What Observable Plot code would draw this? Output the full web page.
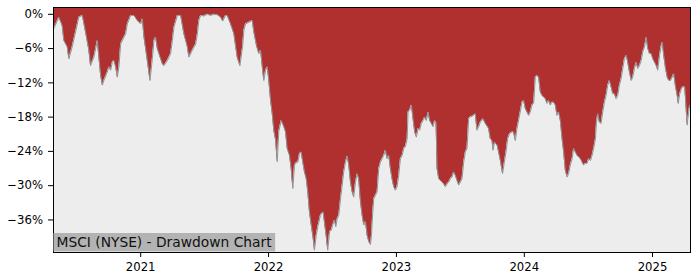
<!DOCTYPE html>
<html>
<head>
<meta charset="utf-8">
<script src="https://cdn.jsdelivr.net/npm/d3@7"></script>
<script src="https://cdn.jsdelivr.net/npm/@observablehq/plot@0.6"></script>
<style>
  html, body { margin: 0; padding: 0; background: #fff; }
  svg { display: block; }
</style>
</head>
<body>
<script>
// ---- data ----
const title = "MSCI (NYSE) - Drawdown Chart";
const xTickYears = [2021, 2022, 2023, 2024, 2025];
const yTicks = [0, -6, -12, -18, -24, -30, -36];
const xRange = [2020.320, 2025.297];   // decimal years
const yRange = [-41.7, 1.19];          // percent

const years = [
2020.320,2020.323,2020.362,2020.388,2020.401,2020.427,2020.440,2020.466,2020.492,2020.518,2020.545,2020.570,2020.596,2020.609,2020.635,2020.662,2020.674,2020.688,2020.701,2020.713,2020.740,2020.752,2020.766,2020.779,2020.791,2020.805,2020.818,2020.830,2020.844,2020.857,2020.883,2020.896,2020.922,2020.948,2020.974,
2021.000,2021.013,2021.026,2021.052,2021.073,2021.091,2021.104,2021.117,2021.130,2021.156,2021.170,2021.182,2021.209,2021.234,2021.248,2021.260,2021.287,2021.313,2021.338,2021.365,2021.377,2021.404,2021.430,2021.443,2021.455,2021.469,2021.495,2021.521,2021.547,2021.573,2021.599,2021.625,2021.641,2021.664,2021.677,2021.703,2021.729,2021.755,2021.776,2021.797,2021.807,2021.820,2021.846,2021.873,2021.885,2021.906,2021.924,2021.938,2021.951,2021.963,2021.977,2021.990,
2022.002,2022.016,2022.029,2022.041,2022.055,2022.068,2022.080,2022.099,2022.120,2022.133,2022.146,2022.164,2022.177,2022.190,2022.203,2022.219,2022.229,2022.242,2022.255,2022.268,2022.281,2022.295,2022.307,2022.320,2022.334,2022.349,2022.359,2022.373,2022.385,2022.406,2022.427,2022.440,2022.453,2022.463,2022.477,2022.490,2022.502,2022.516,2022.526,2022.537,2022.549,2022.563,2022.576,2022.588,2022.602,2022.615,2022.627,2022.641,2022.654,2022.666,2022.680,2022.693,2022.705,2022.719,2022.732,2022.745,2022.758,2022.771,2022.784,2022.797,2022.805,2022.815,2022.823,2022.836,2022.849,2022.862,2022.875,2022.888,2022.901,2022.914,2022.927,2022.940,2022.953,2022.966,2022.979,2022.992,
2023.005,2023.018,2023.031,2023.045,2023.057,2023.070,2023.084,2023.091,2023.104,2023.117,2023.130,2023.143,2023.156,2023.170,2023.182,2023.195,2023.209,2023.221,2023.234,2023.248,2023.260,2023.273,2023.287,2023.299,2023.310,2023.318,2023.331,2023.344,2023.357,2023.370,2023.383,2023.396,2023.409,2023.422,2023.435,2023.448,2023.461,2023.474,2023.487,2023.500,2023.513,2023.526,2023.539,2023.552,2023.565,2023.578,2023.604,2023.617,2023.630,2023.643,2023.656,2023.677,2023.695,2023.721,2023.734,2023.748,2023.755,2023.768,2023.787,2023.799,2023.813,2023.830,2023.844,2023.857,2023.870,2023.885,2023.904,2023.916,2023.930,2023.943,2023.963,2023.982,2023.995,
2024.008,2024.021,2024.034,2024.047,2024.060,2024.073,2024.086,2024.099,2024.112,2024.125,2024.138,2024.151,2024.164,2024.177,2024.190,2024.203,2024.216,2024.229,2024.242,2024.255,2024.268,2024.281,2024.295,2024.307,2024.320,2024.334,2024.346,2024.359,2024.373,2024.385,2024.398,2024.412,2024.424,2024.438,2024.451,2024.463,2024.477,2024.490,2024.502,2024.516,2024.529,2024.541,2024.555,2024.563,2024.573,2024.586,2024.599,2024.612,2024.625,2024.638,2024.651,2024.664,2024.677,2024.690,2024.703,2024.716,2024.729,2024.742,2024.755,2024.768,2024.781,2024.795,2024.807,2024.820,2024.834,2024.846,2024.859,2024.873,2024.885,2024.898,2024.912,2024.924,2024.938,2024.951,2024.963,2024.977,2024.990,
2025.002,2025.016,2025.029,2025.041,2025.055,2025.068,2025.076,2025.088,2025.102,2025.115,2025.127,2025.141,2025.154,2025.166,2025.180,2025.193,2025.201,2025.213,2025.227,2025.240,2025.252,2025.260,2025.271,2025.276,2025.287,2025.291,2025.297
];

const drawdown = [
-2.5,-2.5,-0.5,-2.0,-4.6,-5.7,-7.8,-5.7,-3.1,-0.5,-0.2,-3.1,-6.3,-9.0,-7.5,-4.6,-7.5,-10.7,-12.4,-11.6,-10.1,-9.2,-9.8,-8.4,-8.1,-9.2,-11.0,-9.2,-5.2,-4.6,-3.4,-1.7,-0.2,-0.2,-1.1,
-1.7,-0.8,-4.0,-8.1,-11.6,-7.8,-4.6,-4.0,-6.0,-7.8,-8.7,-9.0,-8.1,-6.9,-4.6,-2.3,-0.2,-0.2,-3.4,-5.7,-7.5,-6.3,-5.2,-3.5,-1.1,-0.2,-0.3,0,-0.2,0,-0.1,-0.5,-1.2,-0.2,-0.2,-1.7,-3.4,-7.5,-9.0,-5.7,-2.8,-1.7,-1.4,-1.1,-3.1,-5.5,-6.9,-6.3,-9.2,-11.6,-9.8,-9.2,
-11.6,-15.1,-17.4,-20.3,-22.0,-25.8,-20.5,-18.6,-19.7,-20.6,-23.5,-24.7,-27.0,-30.5,-26.4,-25.9,-25.9,-24.4,-24.1,-25.9,-27.6,-28.8,-31.1,-34.6,-36.9,-39.2,-41.3,-38.7,-37.2,-35.2,-34.6,-36.9,-39.2,-41.3,-38.1,-37.8,-36.9,-36.0,-37.2,-35.8,-35.2,-32.3,-29.9,-27.6,-25.9,-24.8,-26.4,-29.4,-31.1,-32.0,-29.4,-27.9,-28.8,-32.8,-35.2,-36.9,-36.3,-38.7,-39.8,-40.3,-38.7,-34.6,-32.3,-31.7,-31.1,-27.0,-25.9,-25.3,-24.7,-23.8,-25.3,-24.7,-27.0,-28.8,-30.2,-30.8,
-30.2,-28.2,-25.3,-24.7,-23.5,-23.2,-21.8,-17.1,-16.8,-15.9,-18.3,-20.6,-21.5,-20.0,-20.3,-19.1,-18.6,-18.0,-18.6,-17.1,-18.6,-19.1,-19.7,-18.6,-18.9,-27.0,-28.8,-29.1,-29.4,-29.7,-30.2,-29.7,-29.4,-28.8,-28.5,-27.6,-28.2,-29.1,-29.9,-29.4,-28.8,-25.9,-24.1,-23.5,-18.3,-18.0,-17.7,-17.4,-20.3,-19.7,-18.9,-18.3,-19.1,-20.0,-21.8,-22.1,-23.8,-22.4,-22.9,-24.1,-25.6,-27.9,-25.9,-24.1,-21.8,-20.9,-20.6,-20.6,-22.1,-20.0,-17.7,-15.4,-15.1,
-16.5,-17.1,-17.7,-17.1,-15.9,-15.6,-11.0,-10.7,-11.0,-13.6,-14.2,-14.5,-14.8,-15.6,-15.1,-15.9,-15.4,-15.4,-15.9,-17.7,-17.1,-18.6,-21.8,-24.1,-27.3,-28.5,-27.9,-26.4,-25.3,-23.5,-24.1,-24.7,-25.0,-25.3,-25.9,-26.4,-26.1,-26.1,-25.3,-25.6,-24.7,-23.5,-21.8,-18.9,-17.4,-18.9,-19.1,-17.1,-15.4,-14.2,-12.4,-11.6,-12.7,-13.9,-13.9,-14.8,-14.2,-12.4,-11.3,-9.5,-7.8,-7.2,-8.4,-10.1,-11.6,-11.0,-9.5,-8.4,-9.5,-9.0,-8.1,-6.6,-5.7,-4.0,-6.0,-6.9,-6.9,
-7.8,-8.4,-9.0,-9.8,-7.2,-5.5,-4.9,-7.2,-9.5,-11.0,-11.6,-11.6,-11.0,-10.4,-12.7,-14.2,-15.6,-13.9,-13.0,-12.7,-12.7,-15.4,-19.4,-18.3,-16.5,-15.9,-16.5
];

// ---- helpers ----
function fromDecimalYear(t) {
  const y = Math.floor(t);
  const a = Date.UTC(y, 0, 1), b = Date.UTC(y + 1, 0, 1);
  return new Date(a + (t - y) * (b - a));
}
const data = years.map((t, i) => ({date: fromDecimalYear(t), dd: drawdown[i], base: yRange[0]}));
const xTicks = xTickYears.map(y => new Date(Date.UTC(y, 0, 1)));
const fmtPct = d => d === 0 ? "0%" : "\u2212" + Math.abs(d) + "%";

const chart = Plot.plot({
  width: 700,
  height: 280,
  marginLeft: 53,
  marginRight: 10,
  marginTop: 7,
  marginBottom: 28,
  style: {fontFamily: "DejaVu Sans", fontSize: "11.7px", background: "#ffffff", color: "#000"},
  x: {type: "utc", domain: xRange.map(fromDecimalYear), label: null},
  y: {domain: yRange, label: null},
  marks: [
    Plot.frame({fill: "#b03030"}),
    Plot.areaY(data, {x: "date", y1: "base", y2: "dd", fill: "#ededed", curve: "linear"}),
    Plot.lineY(data, {x: "date", y: "dd", stroke: "#8f9597", strokeWidth: 1, curve: "linear"}),
    Plot.frame({stroke: "#000", strokeWidth: 1}),
    Plot.axisX({ticks: xTicks, tickFormat: "%Y", tickSize: 5, tickPadding: 5, label: null, stroke: "#000"}),
    Plot.axisY({ticks: yTicks, tickFormat: fmtPct, tickSize: 5, tickPadding: 5.5, label: null, stroke: "#000"}),
    Plot.text([title], {frameAnchor: "bottom-left", textAnchor: "start", lineAnchor: "bottom", dx: 3, dy: -5.3, fontSize: 13.8, fill: "#111"})
  ]
});
document.body.append(chart);

// grey box behind the label
const label = [...chart.querySelectorAll("text")].find(t => t.textContent === title);
if (label) {
  const bb = label.getBBox();
  const r = document.createElementNS("http://www.w3.org/2000/svg", "rect");
  r.setAttribute("x", bb.x - 3);
  r.setAttribute("y", bb.y - 1.2);
  r.setAttribute("width", bb.width + 6);
  r.setAttribute("height", bb.height + 2.4);
  r.setAttribute("fill", "#b3b3b3");
  const tr = label.getAttribute("transform");
  if (tr) r.setAttribute("transform", tr);
  label.parentNode.insertBefore(r, label);
}
</script>
</body>
</html>
